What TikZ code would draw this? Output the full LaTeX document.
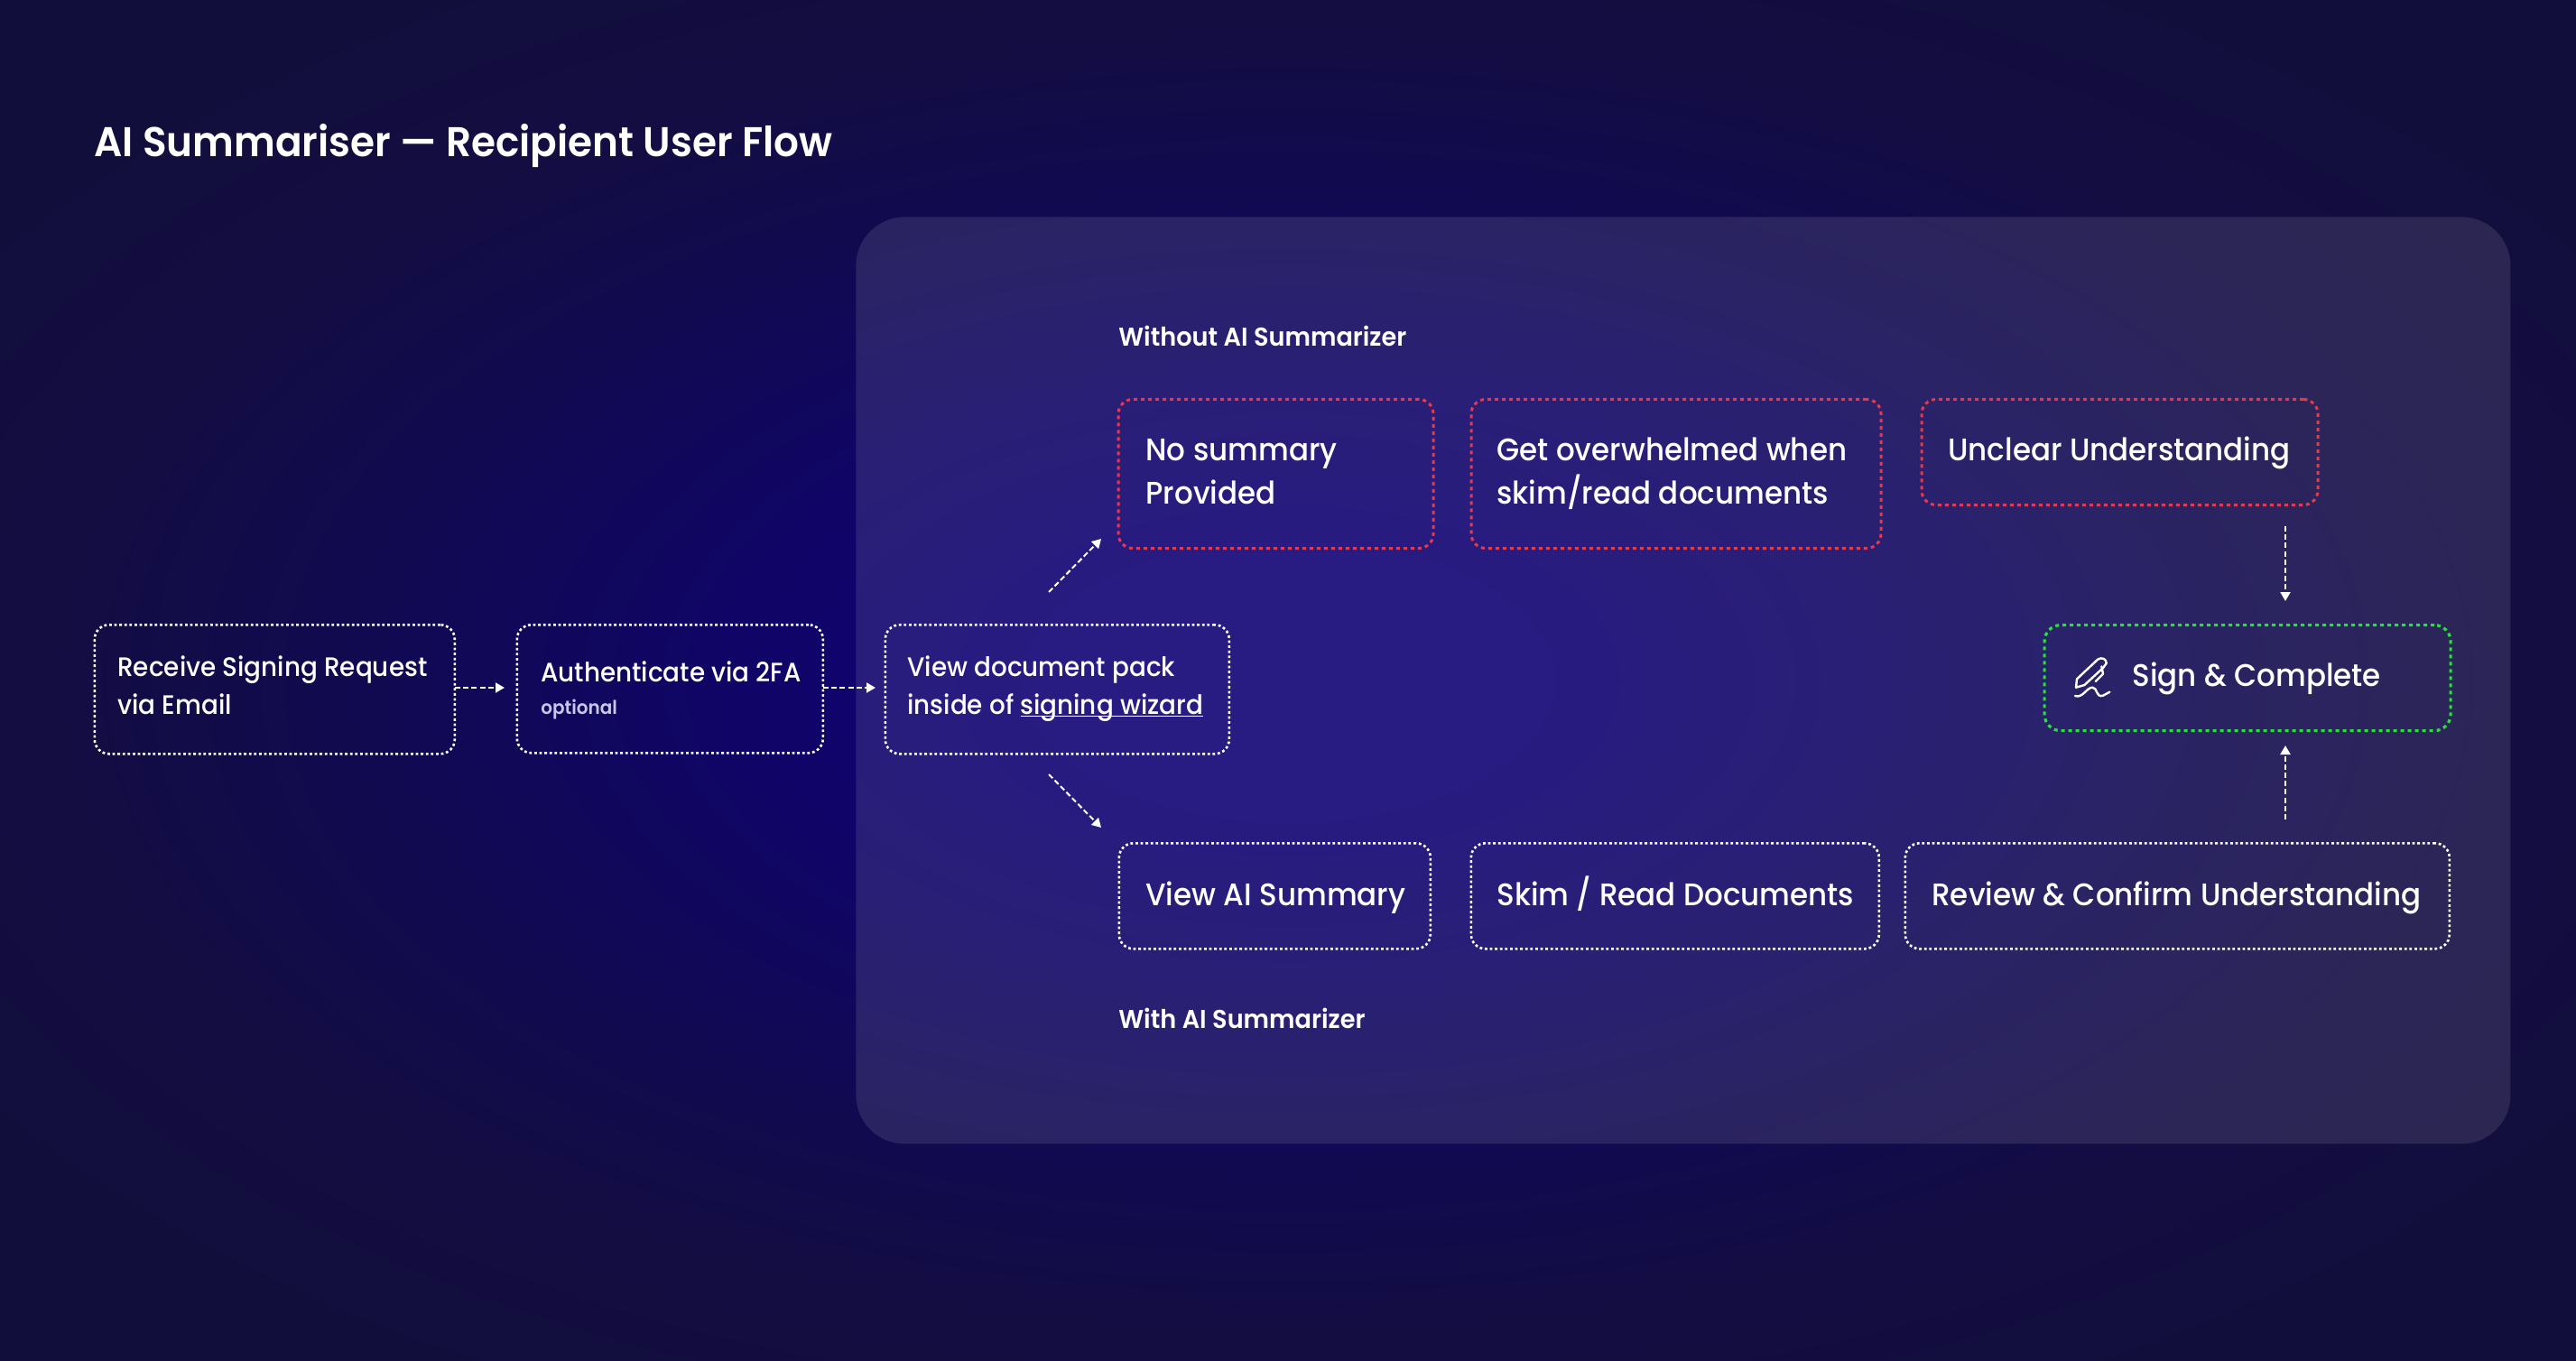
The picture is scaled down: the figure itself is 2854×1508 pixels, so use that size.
\documentclass[tikz,border=0pt]{standalone}
\usepackage{fontspec}
\setmainfont{Poppins Medium}[FakeStretch=0.94,BoldFont={Poppins SemiBold},BoldFeatures={FakeStretch=0.95}]
\usetikzlibrary{arrows.meta}
\definecolor{bgedge}{HTML}{120E3B}
\definecolor{bgouter}{HTML}{130D42}
\definecolor{bgmid}{HTML}{110A50}
\definecolor{bgnear}{HTML}{100566}
\definecolor{bgcore}{HTML}{0F0074}
\definecolor{dotred}{HTML}{E8384F}
\definecolor{dotgreen}{HTML}{27E03C}
\definecolor{soft}{HTML}{C9C6EA}
\pgfdeclareradialshading{bgshade}{\pgfpoint{0bp}{0bp}}{color(0bp)=(bgcore); color(4.5bp)=(bgcore); color(11bp)=(bgnear); color(18bp)=(bgmid); color(24bp)=(bgouter); color(31bp)=(bgedge); color(50bp)=(bgedge)}
\tikzset{
  x=0.5pt,y=-0.5pt,
  flowbox/.style={draw=white,line width=1.3pt,dash pattern=on 1.4pt off 1.4pt,rounded corners=8pt,text=white},
  redbox/.style={draw=dotred,line width=1.5pt,dash pattern=on 2pt off 2pt,rounded corners=8pt},
  greenbox/.style={draw=dotgreen,line width=1.6pt,dash pattern=on 2pt off 2pt,rounded corners=9pt},
  link/.style={draw=white,line width=1pt,dash pattern=on 3pt off 1.6pt,-{Triangle[length=5pt,width=5.5pt]}},
  smalltxt/.style={anchor=base west,text=white,inner sep=0pt,font=\fontsize{14.8}{21}\selectfont},
  bigtxt/.style={anchor=base west,text=white,inner sep=0pt,font=\fontsize{17.3}{24}\selectfont},
  headtxt/.style={anchor=base west,text=white,inner sep=0pt,font=\fontsize{14.3}{16}\selectfont\bfseries},
}
\newcommand{\boxat}[6]{\node[#1,inner sep=0pt,minimum width=#4*0.5pt-#2*0.5pt,minimum height=#5*0.5pt-#3*0.5pt,anchor=north west,xshift=-0.75pt] (#6) at (#2,#3) {};}
\begin{document}
\begin{tikzpicture}
\useasboundingbox (0,0) rectangle (2854,1508);
\shade[shading=bgshade] (0,0) rectangle (2854,1508);
\node[anchor=north west,inner sep=0pt,minimum width=916.5pt,minimum height=513.5pt,fill=white,fill opacity=.105,rounded corners=27pt] (panel) at (948,240) {};
\node[anchor=base west,text=white,inner sep=0pt,font=\fontsize{23}{28}\selectfont\bfseries] (title) at (104,174) {AI Summariser — Recipient User Flow};
\boxat{flowbox}{105}{691}{504}{834}{recv}
\boxat{flowbox}{573}{691}{912}{833}{auth}
\boxat{flowbox}{981}{691}{1362}{834}{view}
\boxat{redbox}{1239}{441}{1588}{606}{nosum}
\boxat{redbox}{1630}{441}{2084}{606}{over}
\boxat{redbox}{2129}{441}{2568}{558}{unclear}
\boxat{flowbox}{1240}{933}{1585}{1050}{aisum}
\boxat{flowbox}{1630}{933}{2082}{1050}{skim}
\boxat{flowbox}{2111}{933}{2714}{1050}{review}
\boxat{greenbox}{2265}{691}{2715}{808}{sign}
\node[smalltxt] (t1) at (130,749) {Receive Signing Request};
\node[smalltxt] (t2) at (130,791) {via Email};
\node[smalltxt] (t3) at (599,755) {Authenticate via 2FA};
\node[anchor=base west,text=soft,inner sep=0pt,font=\fontsize{10.5}{12}\selectfont\bfseries] (t4) at (599,791) {optional};
\node[smalltxt] (t5) at (1005,749) {View document pack};
\node[smalltxt] (t6) at (1005,791) {inside of \underline{\smash{signing wizard}}};
\node[bigtxt] (t7) at (1269,510) {No summary};
\node[bigtxt] (t8) at (1269,558) {Provided};
\node[bigtxt] (t9) at (1658,510) {Get overwhelmed when};
\node[bigtxt] (t10) at (1658,558) {skim/read documents};
\node[bigtxt] (t11) at (2158,510) {Unclear Understanding};
\node[bigtxt] (t12) at (1269,1003) {View AI Summary};
\node[bigtxt] (t13) at (1658,1003) {Skim / Read Documents};
\node[bigtxt] (t14) at (2140,1003) {Review \& Confirm Understanding};
\node[bigtxt] (t15) at (2362,760) {Sign \& Complete};
\node[headtxt] (h1) at (1239,384) {Without AI Summarizer};
\node[headtxt] (h2) at (1239,1139) {With AI Summarizer};
\coordinate (a1s) at (504,762); \coordinate (a1e) at (559,762);
\coordinate (a2s) at (912,762); \coordinate (a2e) at (970,762);
\coordinate (a3s) at (1162,656); \coordinate (a3e) at (1220,597);
\coordinate (a4s) at (1162,858); \coordinate (a4e) at (1220,917);
\coordinate (a5s) at (2532,583); \coordinate (a5e) at (2532,666);
\coordinate (a6s) at (2532,908); \coordinate (a6e) at (2532,826);
\draw[link] (a1s) -- (a1e);
\draw[link] (a2s) -- (a2e);
\draw[link] (a3s) -- (a3e);
\draw[link] (a4s) -- (a4e);
\draw[link] (a5s) -- (a5e);
\draw[link] (a6s) -- (a6e);
\begin{scope}[shift={(2220,560)},x=0.1667pt,y=-0.1667pt,draw=white,line width=1.2pt,line cap=round,line join=round]
\draw (240,605) -- (243,577) -- (312,512) .. controls (325,503) and (342,510) .. (341,525) -- (330,540) -- (268,597) -- cycle;
\draw (305,585) -- (330,560) -- (325,535);
\draw (237,633) .. controls (262,642) and (275,605) .. (295,605) .. controls (312,605) and (305,640) .. (330,632) -- (352,620);
\end{scope}
\end{tikzpicture}
\end{document}
